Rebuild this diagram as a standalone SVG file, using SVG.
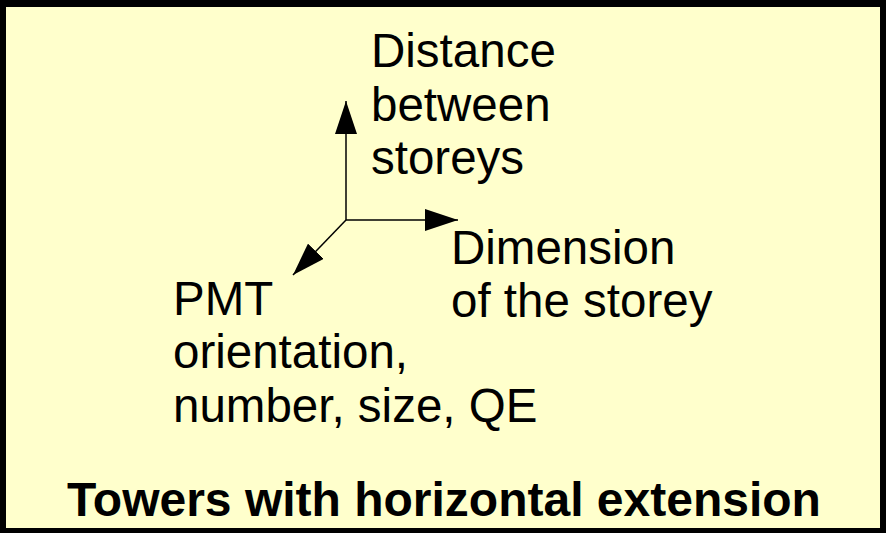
<svg xmlns="http://www.w3.org/2000/svg" width="886" height="533" viewBox="0 0 886 533">
<defs>
<style>
.t{font-family:"Liberation Sans",Arial,sans-serif;font-size:47.5px;fill:#000}
.b{font-weight:bold;text-anchor:middle;font-size:48px}
.ax{stroke:#000;stroke-width:1.5;fill:none}
</style>
<marker id="ah" viewBox="0 0 33 22" refX="33" refY="11" markerWidth="33" markerHeight="22" markerUnits="userSpaceOnUse" orient="auto">
<path d="M0,0 L33,11 L0,22 Z" fill="#000"/>
</marker>
</defs>
<rect x="0" y="0" width="886" height="533" fill="#000"/>
<rect x="6" y="7" width="874" height="521" fill="#ffffcc"/>
<g id="connectors">
<line class="ax" x1="346" y1="220" x2="346" y2="101" marker-end="url(#ah)"/>
<line class="ax" x1="346" y1="220" x2="458" y2="220" marker-end="url(#ah)"/>
<line class="ax" x1="346" y1="220" x2="293" y2="275" marker-end="url(#ah)"/>
</g>
<g id="distance">
<text class="t" x="371" y="67">Distance</text>
<text class="t" x="371" y="121">between</text>
<text class="t" x="371" y="174">storeys</text>
</g>
<g id="dimension">
<text class="t" x="451" y="264">Dimension</text>
<text class="t" x="451" y="317">of the storey</text>
</g>
<g id="pmt">
<text class="t" x="173" y="315">PMT</text>
<text class="t" x="173" y="368">orientation,</text>
<text class="t" x="173" y="422">number, size, QE</text>
</g>
<g id="title">
<text class="t b" x="444" y="516">Towers with horizontal extension</text>
</g>
</svg>
